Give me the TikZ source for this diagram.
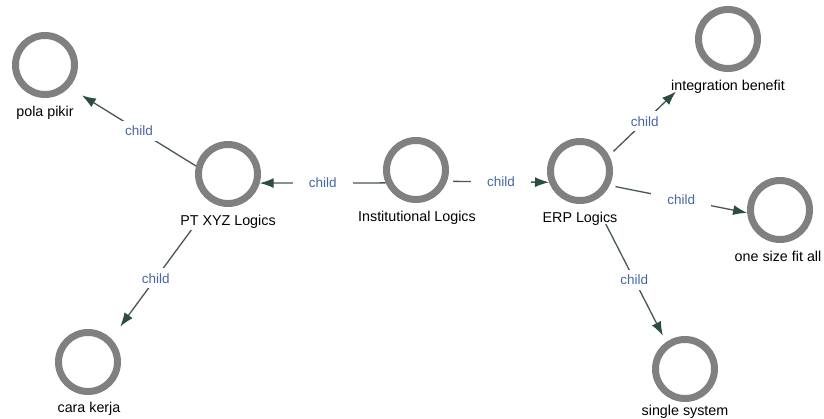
\documentclass[tikz,border=0pt]{standalone}
\usepackage{fontspec}
\setmainfont{Liberation Sans}
\usetikzlibrary{arrows.meta}
\definecolor{ringgray}{RGB}{128,128,128}
\definecolor{edgegray}{RGB}{72,86,86}
\definecolor{tipgreen}{RGB}{44,76,68}
\definecolor{tagblue}{RGB}{72,102,160}
\begin{document}
\begin{tikzpicture}[x=1pt,y=-1pt,
  concept/.style={draw=ringgray, circle, line width=7pt, minimum size=59pt, inner sep=0pt},
  conceptname/.style={anchor=north, inner sep=0pt, font=\fontsize{14.3}{16}\selectfont},
  childedge/.style={draw=edgegray, line width=1.3pt, -{Latex[length=14pt,width=10pt,color=tipgreen]}},
  childtag/.style={fill=white, inner xsep=16pt, inner ysep=5pt, text=tagblue, font=\fontsize{13.5}{15}\selectfont}]
\useasboundingbox (0,0) rectangle (824,419);

\node[concept] (pola) at (45,65) {};
\node[concept] (pt) at (228,174) {};
\node[concept] (inst) at (416,170) {};
\node[concept] (erp) at (580,171) {};
\node[concept] (intb) at (728,39) {};
\node[concept] (onesize) at (780,210) {};
\node[concept] (single) at (685,369) {};
\node[concept] (cara) at (88,362) {};

\node[conceptname] (pola-l) at (45,106) {pola pikir};
\node[conceptname] (pt-l) at (228,215) {PT XYZ Logics};
\node[conceptname] (inst-l) at (417,211) {Institutional Logics};
\node[conceptname] (erp-l) at (580,212) {ERP Logics};
\node[conceptname] (intb-l) at (728,80) {integration benefit};
\node[conceptname] (onesize-l) at (778,251) {one size fit all};
\node[conceptname] (single-l) at (685,405) {single system};
\node[conceptname] (cara-l) at (89,402) {cara kerja};

\path[childedge] (inst.203) -- node[childtag] {child} (pt.-16);
\path[childedge, shorten <=6pt] (inst.-20) -- node[childtag, pos=.53] {child} (erp.200);
\path[childedge, shorten >=15pt] (pt.166) -- node[childtag, pos=.45] {child} (pola.-43);
\path[childedge, shorten <=34pt, shorten >=15pt] (pt.240) -- node[childtag, pos=.556] {child} (cara.45);
\path[childedge, shorten <=6pt, shorten >=41pt] (erp.28) -- node[childtag, pos=.37] {child} (intb.227);
\path[childedge, shorten <=6pt] (erp.-26) -- node[childtag, pos=.52] {child} (onesize.185);
\path[childedge, shorten <=26pt, shorten >=7pt] (erp.-65) -- node[childtag, pos=.56] {child} (single.125);
\end{tikzpicture}
\end{document}
